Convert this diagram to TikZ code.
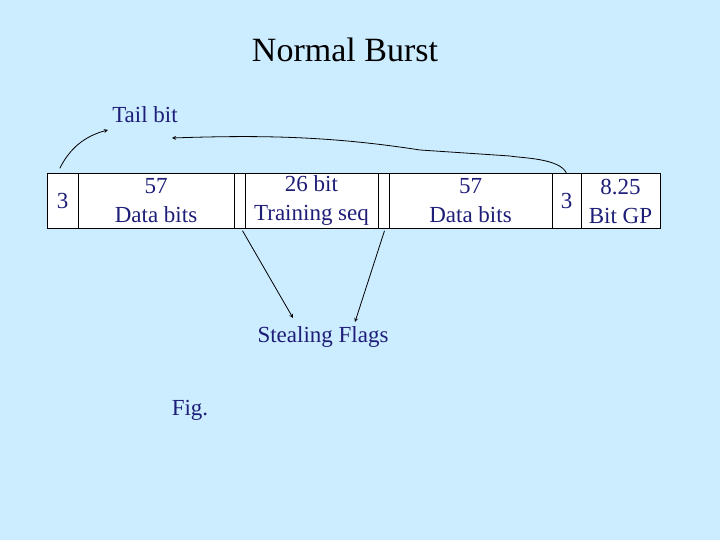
\documentclass[tikz,border=0pt]{standalone}
\usepackage{fontspec}
\setmainfont{Liberation Serif}
\usepackage{tikz}
\definecolor{slidebg}{RGB}{204,236,255}
\definecolor{slidetext}{RGB}{30,30,120}
\begin{document}
\begin{tikzpicture}[x=1pt,y=-1pt,
  field/.style={draw, rectangle, fill=white, inner sep=0pt, text=slidetext, font=\fontsize{23}{29}\selectfont, align=center},
  lbl/.style={text=slidetext, font=\fontsize{23}{29}\selectfont},
  >=stealth]
\fill[slidebg] (0,0) rectangle (720,540);
\node[font=\fontsize{34}{36}\selectfont] (title) at (345,50){Normal Burst};
\node[lbl] (tail) at (145,115){Tail bit};

\node[field, minimum width=31, minimum height=55] (t1) at (62.5,201){3};
\node[field, minimum width=156, minimum height=55] (d1) at (156,201){57\\Data bits};
\node[field, minimum width=11, minimum height=55] (s1) at (239.5,201){};
\node[field, minimum width=133, minimum height=55] (ts) at (311.5,201){26 bit\\Training seq};
\node[field, minimum width=11, minimum height=55] (s2) at (383.5,201){};
\node[field, minimum width=163, minimum height=55] (d2) at (470.5,201){57\\Data bits};
\node[field, minimum width=29, minimum height=55] (t2) at (566.5,201){3};
\node[field, minimum width=79, minimum height=55] (gp) at (620.5,201){8.25\\Bit GP};

\node[lbl] (steal) at (323,337){Stealing Flags};
\node[lbl] (fig) at (190,410){Fig.};

\coordinate (tailend) at (108,130);
\coordinate (backend) at (172,138);
\draw[->, thick] (t1.north west) ++(13,-5) .. controls (70,148) and (85,136) .. (tailend);
\draw[->, thick] (t2.north) .. controls (560,158) and (520,158) .. (510,156) -- (420,150) .. controls (330,136) and (260,135) .. (backend);
\draw[->, thick] (s1.south) ++(3,2) -- (293,318);
\draw[->, thick] (s2.south) ++(1,2) -- (355,322);
\end{tikzpicture}
\end{document}
